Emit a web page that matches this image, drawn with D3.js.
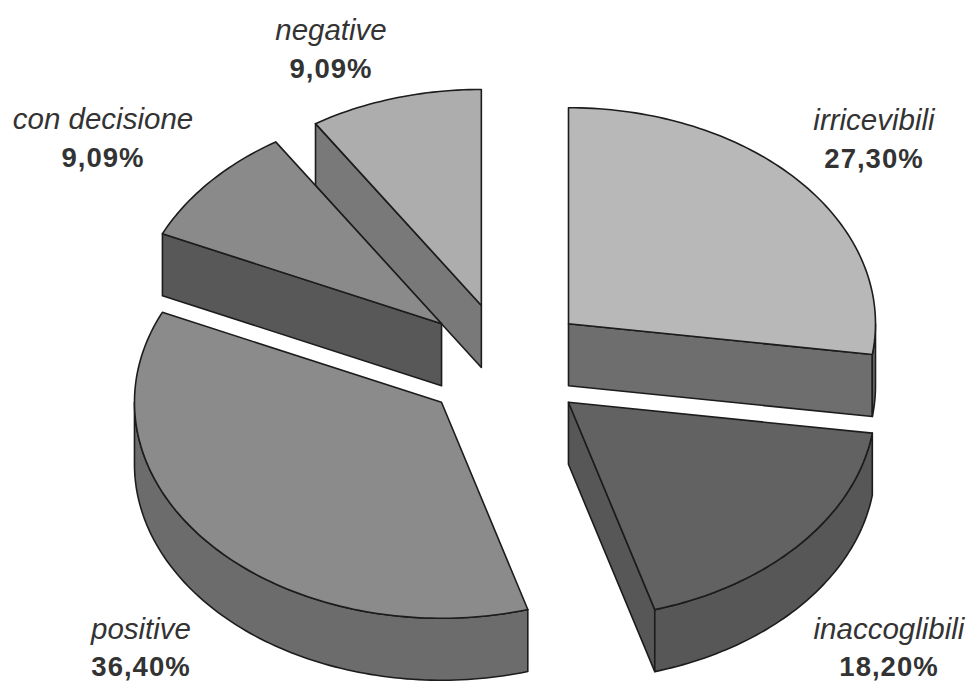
<!DOCTYPE html>
<html>
<head>
<meta charset="utf-8">
<script src="https://cdn.jsdelivr.net/npm/d3@7"></script>
<style>
  html, body { margin: 0; padding: 0; background: #ffffff; }
  svg { display: block; }
  .name { font-family: "Liberation Sans", Arial, sans-serif; font-style: italic; font-size: 29.5px; fill: #333333; }
  .pct { font-family: "Liberation Sans", Arial, sans-serif; font-weight: bold; font-size: 27.5px; letter-spacing: 1px; fill: #333333; }
</style>
</head>
<body>
<svg id="chart" width="970" height="684"></svg>
<script>
// Esito dei ricorsi: quote percentuali per categoria (ordine orario da ore 12)
const categories = ["irricevibili", "inaccoglibili", "positive", "con decisione", "negative"];
const values = [27.30, 18.20, 36.40, 9.09, 9.09];

// Tinte delle facce superiori e delle pareti laterali
const topPalette  = ["#b8b8b8", "#626262", "#8b8b8b", "#8a8a8a", "#adadad"];
const sidePalette = ["#6e6e6e", "#575757", "#6c6c6c", "#585858", "#797979"];

// Geometria della torta 3D
const CX = 505, CY = 363;      // centro della faccia superiore
const RX = 307, RY = 216;      // semiassi dell'ellisse
const DEPTH = 62;              // spessore
const EXPLODE_X = 84, EXPLODE_Y = 60;   // distacco delle fette lungo gli assi

// Posizione delle etichette (centro, linea di base del nome e della percentuale)
const labelLayout = {
  "irricevibili":  { x: 874, y1: 130, y2: 168 },
  "inaccoglibili": { x: 889, y1: 639, y2: 676 },
  "positive":      { x: 141, y1: 639, y2: 676 },
  "con decisione": { x: 103, y1: 129, y2: 167 },
  "negative":      { x: 331, y1: 40,  y2: 78 }
};

const it = d3.formatLocale({ decimal: ",", thousands: ".", grouping: [3], currency: ["€", ""] });
const fmtPct = v => it.format(".2f")(v) + "%";

const topColor  = d3.scaleOrdinal(categories, topPalette);
const sideColor = d3.scaleOrdinal(categories, sidePalette);

const svg = d3.select("#chart");

const arcs = d3.pie().sort(null).value(d => d.value)
  .startAngle(0).endAngle(2 * Math.PI)(categories.map((c, i) => ({ name: c, value: values[i] })));

// proiezione: angolo orario da ore 12, raggio relativo, scostamento e quota
function proj(theta, r, off, z) {
  return [CX + off[0] + r * RX * Math.sin(theta), CY + off[1] - r * RY * Math.cos(theta) + z];
}
function arcPts(a, b, off, z) {
  const n = Math.max(2, Math.ceil(Math.abs(b - a) / 0.02));
  return d3.range(n + 1).map(i => proj(a + (b - a) * i / n, 1, off, z));
}
const line = d3.line().curve(d3.curveLinear);

arcs.forEach(d => {
  const m = (d.startAngle + d.endAngle) / 2;
  d.mid = m;
  d.off = [EXPLODE_X * Math.sin(m), -EXPLODE_Y * Math.cos(m)];
});

// dalla fetta più lontana alla più vicina
const order = arcs.slice().sort((a, b) => Math.cos(b.mid) - Math.cos(a.mid));

const slices = svg.append("g").attr("class", "slices")
  .attr("stroke", "#1c1c1c").attr("stroke-width", 1.6).attr("stroke-linejoin", "round");

order.forEach(d => {
  const g = slices.append("g").attr("class", "slice");
  const a0 = d.startAngle, a1 = d.endAngle, off = d.off;
  const side = sideColor(d.data.name);
  const apexT = proj(0, 0, off, 0), apexB = proj(0, 0, off, DEPTH);

  // facce radiali visibili
  const radial = [];
  if (Math.sin(a0) < -1e-6) radial.push(a0);
  if (Math.sin(a1) > 1e-6) radial.push(a1);
  radial.forEach(a => {
    const eT = proj(a, 1, off, 0), eB = proj(a, 1, off, DEPTH);
    g.append("path").attr("d", line([apexT, eT, eB, apexB]) + "Z").attr("fill", side);
  });

  // parete esterna rivolta verso l'osservatore
  const s = Math.max(a0, Math.PI / 2), e = Math.min(a1, 3 * Math.PI / 2);
  if (e > s) {
    const pts = arcPts(s, e, off, 0).concat(arcPts(e, s, off, DEPTH));
    g.append("path").attr("d", line(pts) + "Z").attr("fill", side);
  }

  // faccia superiore
  const topPts = [apexT].concat(arcPts(a0, a1, off, 0));
  g.append("path").attr("d", line(topPts) + "Z").attr("fill", topColor(d.data.name));
});

// etichette
const labels = svg.append("g").attr("class", "labels").attr("text-anchor", "middle");
arcs.forEach(d => {
  const L = labelLayout[d.data.name];
  labels.append("text").attr("class", "name").attr("x", L.x).attr("y", L.y1).text(d.data.name);
  labels.append("text").attr("class", "pct").attr("x", L.x).attr("y", L.y2).text(fmtPct(d.data.value));
});
</script>
</body>
</html>
